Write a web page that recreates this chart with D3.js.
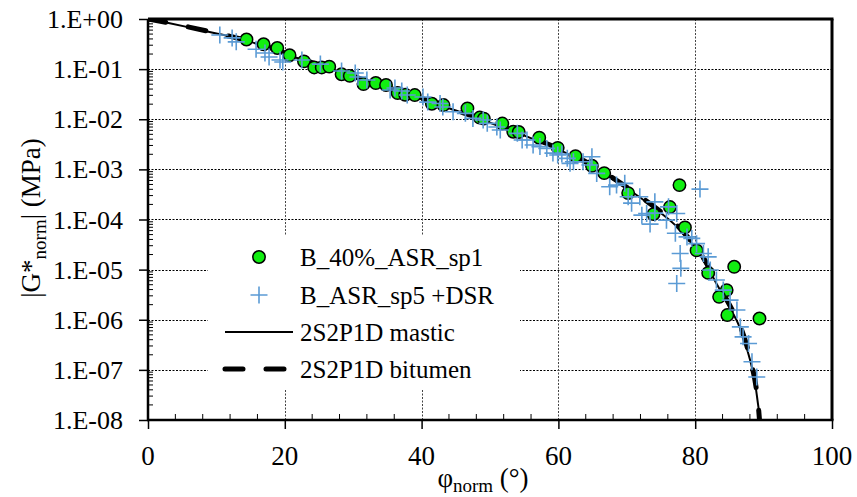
<!DOCTYPE html>
<html><head><meta charset="utf-8">
<script src="https://cdn.jsdelivr.net/npm/d3@7"></script>
<style>body{margin:0;background:#fff}</style>
</head><body><svg id="c" width="857" height="497"></svg>
<script>
// ---- data ----
const yTickVals = [1, 1e-1, 1e-2, 1e-3, 1e-4, 1e-5, 1e-6, 1e-7, 1e-8];
const yTickLabels = ["1.E+00","1.E-01","1.E-02","1.E-03","1.E-04","1.E-05","1.E-06","1.E-07","1.E-08"];
const xTickVals = [0, 20, 40, 60, 80, 100];

const circPhi = [14.4,16.9,18.9,20.7,22.8,24.3,25.4,26.5,28.3,29.5,31.5,33.3,34.8,36.5,37.6,39.0,41.5,43.2,46.7,48.5,49.1,51.8,53.4,54.2,57.2,59.9,62.5,64.9,66.7,70.2,77.7,76.3,73.9,78.5,80.2,81.9,85.7,84.6,83.5,84.7,89.4];
const circG = [0.39,0.313,0.264,0.189,0.143,0.108,0.108,0.112,0.079,0.0735,0.0504,0.0528,0.0482,0.0333,0.0308,0.0304,0.0204,0.0192,0.0165,0.0108,0.0103,0.0082,0.00564,0.00556,0.00428,0.00269,0.00184,0.00118,0.00084,3.36e-4,4.86e-4,1.77e-4,1.28e-4,6.95e-5,2.42e-5,8.6e-6,1.14e-5,3.9e-6,2.86e-6,1.24e-6,1.06e-6];

const crossPhi = [10.5,12.3,12.9,15.8,17.1,17.7,19.3,19.7,22.5,25.2,28.3,30.3,30.7,32.0,35.4,36.1,37.1,37.9,40.2,40.9,42.7,43.1,44.6,46.4,47.5,49.0,49.6,51.0,51.5,54.0,54.7,55.4,56.3,57.3,58.3,59.2,59.9,60.5,61.3,61.7,62.2,63.6,64.9,64.6,65.6,67.5,68.5,69.7,70.2,71.9,70.7,72.2,72.9,73.4,74.1,74.1,75.8,76.1,77.3,77.1,77.8,77.9,77.3,78.8,79.5,80.7,80.2,81.2,81.9,82.2,83.1,84.1,85.1,86.1,86.6,87.0,87.8,88.3,89.0];
const crossG = [0.48,0.42,0.35,0.25,0.21,0.175,0.152,0.139,0.152,0.126,0.0917,0.0836,0.0695,0.0606,0.0383,0.042,0.0366,0.0304,0.0277,0.022,0.0206,0.0175,0.0141,0.0131,0.0104,0.00964,0.00828,0.00699,0.00609,0.00523,0.00385,0.00385,0.00306,0.00285,0.00262,0.00211,0.00193,0.00202,0.00166,0.00132,0.00142,0.00142,0.00179,0.00122,8.32e-4,4.5e-4,4.86e-4,5.26e-4,2.84e-4,2.84e-4,2.12e-4,1.22e-4,1.32e-4,8.1e-5,2.25e-4,1.34e-4,9.7e-5,1.79e-4,1.32e-4,5.3e-5,2.1e-5,1.06e-5,5.3e-6,4.5e-5,4.2e-5,4.04e-4,3.3e-5,2.1e-5,1.8e-5,9.8e-6,6.2e-6,3.9e-6,2.46e-6,1.56e-6,7.2e-7,4.56e-7,3.37e-7,1.45e-7,7.2e-8];

const masticPhi = [0,3,6,9,12,15,20,25,30,35,40,45,50,55,60,65,70,74,77,79,81,83,85,86.5,87.5,88.3,88.9,89.2,89.5];
const masticG = [1,0.83,0.68,0.55,0.45,0.35,0.20,0.12,0.071,0.042,0.025,0.015,0.0085,0.0047,0.0025,0.0011,4.2e-4,1.7e-4,7.9e-5,4.0e-5,1.7e-5,5.6e-6,1.8e-6,7.1e-7,2.8e-7,1.1e-7,4.0e-8,2.0e-8,1.0e-8];
const bitumenPhi = [0,3,6,9,12,15,20,25,30,35,40,45,50,55,60,65,70,74,77,79,81,83,85,86.5,87.5,88.3,88.9,89.2,89.4];
const bitumenG = [1,0.84,0.69,0.56,0.45,0.36,0.21,0.12,0.072,0.043,0.026,0.015,0.0088,0.0049,0.0026,0.0012,4.4e-4,1.8e-4,8.5e-5,4.3e-5,1.9e-5,6.2e-6,2.0e-6,8.0e-7,3.2e-7,1.2e-7,4.5e-8,2.1e-8,1.0e-8];

const legendLabels = ["B_40%_ASR_sp1","B_ASR_sp5 +DSR","2S2P1D mastic","2S2P1D bitumen"];

// ---- drawing ----
const FONT = '"Liberation Serif"';
const svg = d3.select("#c");
const L = 148, R = 832, T = 19, B = 420;
const x = d3.scaleLinear().domain([0,100]).range([L,R]);
const y = d3.scaleLog().domain([1,1e-8]).range([T,B]);
const green = "#11ee11", blue = "#5b9bd5";

svg.append("defs").append("clipPath").attr("id","clip").append("rect")
  .attr("x",L).attr("y",T).attr("width",R-L).attr("height",B-T);

// grid
const grid = svg.append("g").attr("stroke","#000").attr("stroke-width",1).attr("stroke-dasharray","2,1.5");
grid.selectAll("line.h").data(yTickVals.slice(1,-1)).join("line")
  .attr("x1",L).attr("x2",R).attr("y1",d=>Math.round(y(d))+0.5).attr("y2",d=>Math.round(y(d))+0.5);
grid.selectAll("line.v").data(xTickVals.slice(1,-1)).join("line").attr("stroke","#444")
  .attr("y1",T).attr("y2",B).attr("x1",d=>Math.round(x(d))+0.5).attr("x2",d=>Math.round(x(d))+0.5);

// legend background
svg.append("rect").attr("x",208).attr("y",235).attr("width",312).attr("height",155).attr("fill","#fff");

// axes (ticks drawn by d3 axes, labels as plain text)
const yAxis = d3.axisLeft(y).tickValues(yTickVals).tickFormat("").tickSize(9);
const gy = svg.append("g").attr("transform",`translate(${L},0)`).call(yAxis);
gy.select(".domain").remove();
gy.selectAll(".tick line").attr("stroke-width",1.5);
svg.append("g").selectAll("text").data(yTickVals).join("text")
  .attr("x",L-25).attr("y",d=>y(d)).attr("dy","0.35em").attr("text-anchor","end")
  .style("font-family",FONT).style("font-size","26px").text((d,i)=>yTickLabels[i]);
// minor y ticks (inside)
const minors = [];
for (let e=0;e>-8;e--) for (let k=2;k<=9;k++) minors.push(k*Math.pow(10,e-1));
svg.append("g").selectAll("line").data(minors).join("line")
  .attr("x1",L).attr("x2",L+5).attr("y1",d=>y(d)).attr("y2",d=>y(d)).attr("stroke","#000").attr("stroke-width",1);

const xAxis = d3.axisBottom(x).tickValues(xTickVals).tickFormat("").tickSize(9);
const gx = svg.append("g").attr("transform",`translate(0,${B})`).call(xAxis);
gx.select(".domain").remove();
gx.selectAll(".tick line").attr("stroke-width",1.5);
svg.append("g").selectAll("text").data(xTickVals).join("text")
  .attr("x",d=>x(d)).attr("y",B+45).attr("text-anchor","middle")
  .style("font-family",FONT).style("font-size","27px").text(d=>String(d));
// minor x ticks (inside)
svg.append("g").selectAll("line").data(d3.range(4,100,4).filter(v=>v%20!==0)).join("line")
  .attr("x1",d=>x(d)).attr("x2",d=>x(d)).attr("y1",B).attr("y2",B-6).attr("stroke","#000").attr("stroke-width",1);

// curves
const lineGen = d3.line().x(d=>x(d[0])).y(d=>y(d[1])).curve(d3.curveMonotoneX);
const plot = svg.append("g").attr("clip-path","url(#clip)");
plot.append("path").datum(d3.zip(bitumenPhi,bitumenG)).attr("d",lineGen)
  .attr("fill","none").attr("stroke","#000").attr("stroke-width",5).attr("stroke-dasharray","18,23").attr("stroke-linecap","round");
plot.append("path").datum(d3.zip(masticPhi,masticG)).attr("d",lineGen)
  .attr("fill","none").attr("stroke","#000").attr("stroke-width",2);

// markers
plot.selectAll("circle").data(d3.zip(circPhi,circG)).join("circle")
  .attr("cx",d=>x(d[0])).attr("cy",d=>y(d[1])).attr("r",6.2)
  .attr("fill",green).attr("stroke","#000").attr("stroke-width",1.5);
const plus = (g,cx,cy,s)=>g.append("path").attr("d",`M${cx-s},${cy}H${cx+s}M${cx},${cy-s}V${cy+s}`)
  .attr("stroke",blue).attr("stroke-width",1.6).attr("fill","none");
const pg = plot.append("g");
d3.zip(crossPhi,crossG).forEach(d=>plus(pg,x(d[0]),y(d[1]),8.5));

// frame
svg.append("line").attr("x1",L).attr("x2",L).attr("y1",T).attr("y2",B+1).attr("stroke","#000").attr("stroke-width",2.5);
svg.append("line").attr("x1",L-1).attr("x2",R+1.5).attr("y1",B).attr("y2",B).attr("stroke","#000").attr("stroke-width",2.5);
svg.append("line").attr("x1",L).attr("x2",R+1.5).attr("y1",T).attr("y2",T).attr("stroke","#000").attr("stroke-width",3);
svg.append("line").attr("x1",R).attr("x2",R).attr("y1",T).attr("y2",B).attr("stroke","#000").attr("stroke-width",3);

// legend
const lg = svg.append("g");
const rowsY = [257, 295, 332, 369];
lg.append("circle").attr("cx",259).attr("cy",rowsY[0]).attr("r",6.2).attr("fill",green).attr("stroke","#000").attr("stroke-width",1.5);
plus(lg,259,rowsY[1],8.5);
lg.append("line").attr("x1",225).attr("x2",293).attr("y1",rowsY[2]).attr("y2",rowsY[2]).attr("stroke","#000").attr("stroke-width",2);
lg.append("line").attr("x1",225).attr("x2",293).attr("y1",rowsY[3]).attr("y2",rowsY[3]).attr("stroke","#000").attr("stroke-width",5).attr("stroke-dasharray","18,23").attr("stroke-linecap","round");
lg.selectAll("text").data(legendLabels).join("text")
  .attr("x",300).attr("y",(d,i)=>rowsY[i]+9).style("font-family",FONT).style("font-size","25px").text(d=>d);

// axis titles
const xt = svg.append("text").attr("x",483).attr("y",487).attr("text-anchor","middle")
  .style("font-family",FONT).style("font-size","27px");
xt.append("tspan").text("φ");
xt.append("tspan").style("font-size","19px").attr("dy",5).text("norm");
xt.append("tspan").attr("dy",-5).text(" (°)");

const yt = svg.append("text").attr("transform","translate(40,218) rotate(-90)").attr("text-anchor","middle")
  .style("font-family",FONT).style("font-size","27px");
yt.append("tspan").text("|G*");
yt.append("tspan").style("font-size","19px").attr("dy",6).text("norm");
yt.append("tspan").attr("dy",-6).text("| (MPa)");
</script></body></html>
